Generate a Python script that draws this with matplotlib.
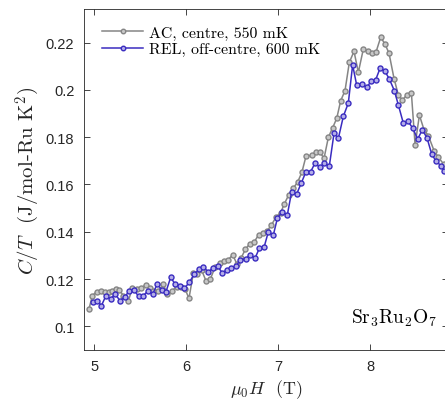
import matplotlib
matplotlib.use('Agg')
import matplotlib.pyplot as plt
import numpy as np

plt.rcParams['mathtext.fontset'] = 'cm'
plt.rcParams['font.family'] = ['Liberation Sans', 'DejaVu Sans']

# AC, centre, 550 mK
field_ac = [4.946, 4.982, 5.029, 5.072, 5.116, 5.163, 5.199, 5.235, 5.272, 5.319,
            5.373, 5.417, 5.464, 5.507, 5.561, 5.605, 5.641, 5.696, 5.753, 5.797,
            5.844, 5.898, 5.942, 5.989, 6.032, 6.079, 6.123, 6.170, 6.217, 6.262,
            6.318, 6.365, 6.414, 6.460, 6.507, 6.554, 6.600, 6.646, 6.695, 6.743,
            6.788, 6.836, 6.880, 6.927, 6.982, 7.028, 7.069, 7.118, 7.163, 7.212,
            7.259, 7.304, 7.366, 7.413, 7.456, 7.500, 7.547, 7.594, 7.638, 7.681,
            7.728, 7.775, 7.826, 7.873, 7.927, 7.973, 8.018, 8.066, 8.116, 8.163,
            8.207, 8.261, 8.308, 8.352, 8.399, 8.450, 8.490, 8.537, 8.587, 8.634,
            8.696, 8.743, 8.800]
ct_ac = [0.1075, 0.1130, 0.1147, 0.1148, 0.1144, 0.1147, 0.1151, 0.1158, 0.1155, 0.1130,
         0.1108, 0.1162, 0.1158, 0.1161, 0.1175, 0.1161, 0.1148, 0.1148, 0.1177, 0.1136,
         0.1151, 0.1165, 0.1165, 0.1158, 0.1118, 0.1224, 0.1221, 0.1237, 0.1192, 0.1198,
         0.1252, 0.1266, 0.1275, 0.1282, 0.1302, 0.1263, 0.1290, 0.1326, 0.1350, 0.1358,
         0.1386, 0.1396, 0.1402, 0.1428, 0.1464, 0.1480, 0.1518, 0.1557, 0.1583, 0.1609,
         0.1651, 0.1719, 0.1724, 0.1738, 0.1736, 0.1710, 0.1799, 0.1840, 0.1879, 0.1954,
         0.1996, 0.2116, 0.2163, 0.2074, 0.2172, 0.2165, 0.2155, 0.2161, 0.2222, 0.2194,
         0.2154, 0.2048, 0.1978, 0.1957, 0.1978, 0.1985, 0.1767, 0.1893, 0.1831, 0.1806,
         0.1743, 0.1715, 0.1686]

# REL, off-centre, 600 mK
field_rel = [4.993, 5.036, 5.080, 5.130, 5.181, 5.228, 5.283, 5.333, 5.384, 5.431,
             5.485, 5.536, 5.583, 5.638, 5.688, 5.735, 5.782, 5.833, 5.880, 5.934,
             5.981, 6.036, 6.090, 6.145, 6.185, 6.243, 6.293, 6.345, 6.396, 6.442,
             6.493, 6.545, 6.590, 6.648, 6.695, 6.750, 6.797, 6.848, 6.895, 6.949,
             6.993, 7.047, 7.101, 7.148, 7.203, 7.253, 7.304, 7.355, 7.402, 7.456,
             7.503, 7.558, 7.609, 7.656, 7.710, 7.764, 7.811, 7.855, 7.909, 7.964,
             8.011, 8.062, 8.109, 8.163, 8.210, 8.265, 8.308, 8.363, 8.410, 8.464,
             8.518, 8.569, 8.620, 8.670, 8.718, 8.772, 8.808]
ct_rel = [0.1101, 0.1108, 0.1087, 0.1130, 0.1116, 0.1137, 0.1108, 0.1123, 0.1151, 0.1154,
          0.1127, 0.1130, 0.1148, 0.1137, 0.1179, 0.1153, 0.1146, 0.1207, 0.1179, 0.1172,
          0.1160, 0.1186, 0.1221, 0.1242, 0.1252, 0.1230, 0.1247, 0.1254, 0.1224, 0.1240,
          0.1245, 0.1254, 0.1282, 0.1285, 0.1302, 0.1288, 0.1330, 0.1334, 0.1400, 0.1386,
          0.1457, 0.1485, 0.1471, 0.1569, 0.1560, 0.1606, 0.1654, 0.1654, 0.1690, 0.1672,
          0.1690, 0.1679, 0.1817, 0.1795, 0.1888, 0.1944, 0.2105, 0.2020, 0.2024, 0.2010,
          0.2036, 0.2043, 0.2091, 0.2078, 0.2046, 0.1996, 0.1936, 0.1858, 0.1869, 0.1838,
          0.1792, 0.1831, 0.1796, 0.1729, 0.1698, 0.1679, 0.1658]

yticks = [0.1, 0.12, 0.14, 0.16, 0.18, 0.2, 0.22]
ytick_labels = ['0.1', '0.12', '0.14', '0.16', '0.18', '0.2', '0.22']
xticks = [5, 6, 7, 8]

gray = '#858585'
blue = '#3a2cc0'
axcol = '#262626'
serif = 'cmr10'

fig = plt.figure(figsize=(4.45, 4.06), dpi=100)
ax = fig.add_axes([0.1888, 0.1362, 0.818, 0.8392])

ax.plot(field_ac, ct_ac, '-o', color=gray, linewidth=1.1, markersize=3.6,
        markeredgewidth=1.0, markeredgecolor=gray, markerfacecolor='#c8c8c8',
        label='AC, centre, 550 mK')
ax.plot(field_rel, ct_rel, '-o', color=blue, linewidth=1.1, markersize=3.6,
        markeredgewidth=1.0, markeredgecolor=blue, markerfacecolor='#b4aee8',
        label='REL, off-centre, 600 mK')

ax.set_xlim(4.891, 8.848)
ax.set_ylim(0.0901, 0.2342)
ax.set_xticks(xticks)
ax.set_yticks(yticks)
ax.set_yticklabels(ytick_labels)
ax.tick_params(direction='in', top=True, right=True, length=4, width=0.6,
               labelsize=10.5, colors=axcol, pad=7)
for s in ax.spines.values():
    s.set_color(axcol)
    s.set_linewidth(0.6)

ax.set_xlabel(r'$\mu_0H$  (T)', fontsize=13, color=axcol, labelpad=3,
              fontfamily=serif)
ax.set_ylabel(r'$C/T$  (J/mol-Ru K$^2$)', fontsize=15, color=axcol,
              labelpad=3, fontfamily=serif)

ax.text(0.97, 0.095, r'Sr$_3$Ru$_2$O$_7$', transform=ax.transAxes,
        ha='right', va='center', fontsize=14, color='black', fontfamily=serif)

leg = ax.legend(loc='upper left', bbox_to_anchor=(0.0495, 0.951),
                prop={'family': serif, 'size': 11.4}, frameon=False,
                handlelength=2.6, handletextpad=0.35, borderpad=0,
                borderaxespad=0, labelspacing=0.15, markerscale=0.9)

fig.savefig('out.png', dpi=100)
